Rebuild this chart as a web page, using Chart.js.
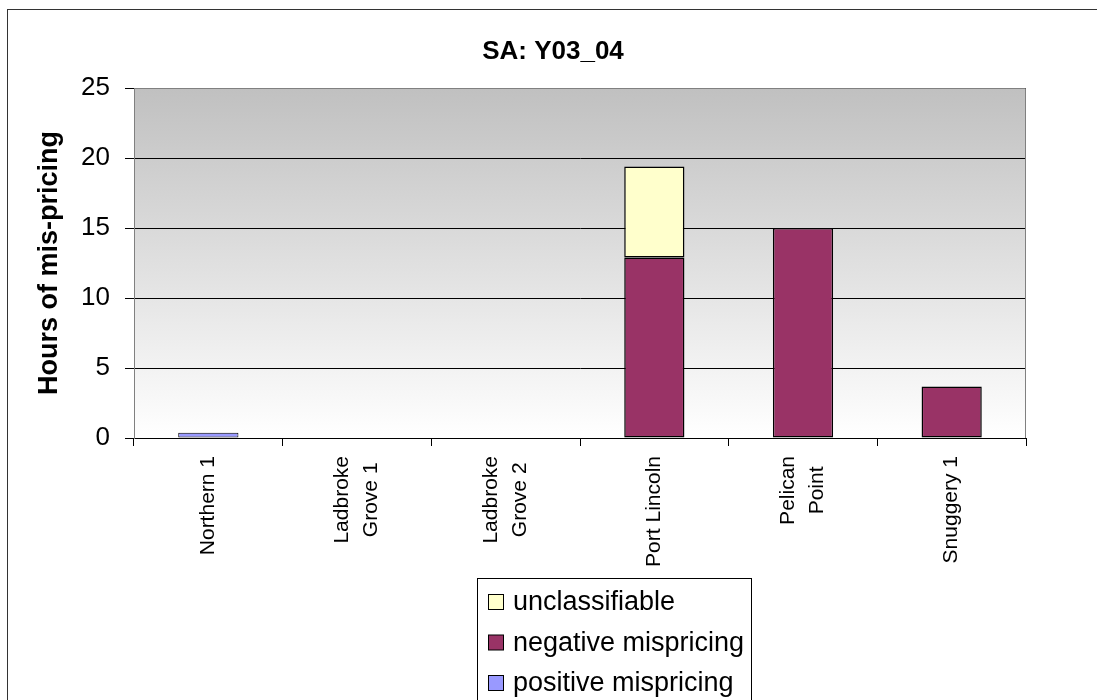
<!DOCTYPE html>
<html><head><meta charset="utf-8">
<script src="https://cdn.jsdelivr.net/npm/chart.js@4/dist/chart.umd.min.js"></script>
<style>html,body{margin:0;padding:0;background:#fff;}#wrap{width:1097px;height:700px;position:relative;}</style>
</head><body><div id="wrap"><canvas id="c" width="1097" height="700"></canvas></div>
<script>
const chartTitle = 'SA: Y03_04';
const yAxisTitle = 'Hours of mis-pricing';
const categories = [['Northern 1'], ['Ladbroke', 'Grove 1'], ['Ladbroke', 'Grove 2'], ['Port Lincoln'], ['Pelican', 'Point'], ['Snuggery 1']];
const positiveMispricing = [0.37, null, null, null, null, null];
const negativeMispricing = [null, null, null, 12.9, 15.0, 3.67];
const unclassifiable = [null, null, null, 6.5, null, null];
const yTickValues = [0, 5, 10, 15, 20, 25];
const seriesNames = ['positive mispricing', 'negative mispricing', 'unclassifiable'];
const seriesColors = ['#9999ff', '#993366', '#ffffcc'];

const FONT = '"Liberation Sans", Arial, sans-serif';

const decor = {
  id: 'decor',
  beforeDraw(chart) {
    const {ctx, chartArea: a} = chart;
    ctx.save();
    ctx.fillStyle = '#fff';
    ctx.fillRect(0, 0, chart.width, chart.height);
    const g = ctx.createLinearGradient(0, a.top, 0, a.bottom);
    g.addColorStop(0, '#c0c0c0');
    g.addColorStop(1, '#ffffff');
    ctx.fillStyle = g;
    ctx.fillRect(a.left, a.top, a.right - a.left, a.bottom - a.top);
    ctx.restore();
  },
  afterDraw(chart) {
    const {ctx, chartArea: a} = chart;
    ctx.save();
    ctx.strokeStyle = '#808080';
    ctx.lineWidth = 1;
    ctx.beginPath();
    ctx.moveTo(a.left + 0.5, a.bottom);
    ctx.lineTo(a.left + 0.5, a.top + 0.5);
    ctx.lineTo(a.right - 0.5, a.top + 0.5);
    ctx.lineTo(a.right - 0.5, a.bottom);
    ctx.stroke();
    ctx.strokeStyle = '#333';
    ctx.strokeRect(7.5, 9.5, 1300, 900);
    ctx.fillStyle = '#000';
    ctx.font = 'bold 26px ' + FONT;
    ctx.textAlign = 'center';
    ctx.textBaseline = 'alphabetic';
    ctx.fillText(chartTitle, 553, 59);
    const xs = chart.scales.x;
    ctx.font = '21px ' + FONT;
    categories.forEach((lines, i) => {
      const x = xs.getPixelForValue(i);
      const bw = Math.max(...lines.map(l => ctx.measureText(l).width));
      ctx.save();
      ctx.translate(x, 456);
      ctx.rotate(-Math.PI / 2);
      ctx.textAlign = 'center';
      ctx.textBaseline = 'middle';
      lines.forEach((l, j) => ctx.fillText(l, -bw / 2, (j - (lines.length - 1) / 2) * 29));
      ctx.restore();
    });
    ctx.fillStyle = '#fff';
    ctx.fillRect(477, 578, 274, 140);
    ctx.strokeStyle = '#000';
    ctx.strokeRect(477.5, 578.5, 274, 140);
    const ds = chart.data.datasets.slice().reverse();
    ctx.font = '27px ' + FONT;
    ctx.textAlign = 'left';
    ctx.textBaseline = 'middle';
    ds.forEach((d, k) => {
      const cy = 602 + k * 40.5;
      ctx.fillStyle = d.backgroundColor;
      ctx.fillRect(488.5, cy - 7.5, 15, 15);
      ctx.strokeStyle = '#000';
      ctx.lineWidth = 1;
      ctx.strokeRect(488.5, cy - 7.5, 15, 15);
      ctx.fillStyle = '#000';
      ctx.fillText(d.label, 513, cy + 1);
    });
    ctx.restore();
  }
};

const seriesData = [positiveMispricing, negativeMispricing, unclassifiable];

new Chart(document.getElementById('c'), {
  type: 'bar',
  data: {
    labels: categories.map(c => c.join(' ')),
    datasets: seriesData.map((d, i) => ({
      label: seriesNames[i],
      data: d,
      backgroundColor: seriesColors[i],
      borderColor: '#000',
      borderWidth: i === 0 ? 1 : 1.5,
      borderSkipped: false,
      categoryPercentage: 1,
      barPercentage: 0.405
    }))
  },
  options: {
    responsive: false,
    animation: false,
    layout: {padding: {top: 88, right: 71, left: 0, bottom: 0}},
    plugins: {legend: {display: false}, title: {display: false}, tooltip: {enabled: false}},
    scales: {
      x: {
        stacked: true,
        afterFit(s) { s.height = 262; },
        grid: {display: true, drawOnChartArea: false, drawTicks: true, tickLength: 8, color: '#000', offset: true},
        border: {display: true, color: '#000', width: 1},
        ticks: {display: false}
      },
      y: {
        stacked: true,
        min: 0, max: 25,
        afterFit(s) { s.width = 134; },
        afterBuildTicks(s) { s.ticks = yTickValues.map(v => ({value: v})); },
        grid: {color: '#000', lineWidth: 1, tickLength: 9, drawTicks: true},
        border: {display: true, color: '#808080'},
        ticks: {font: {family: FONT, size: 26}, color: '#000', padding: 15},
        title: {display: true, text: yAxisTitle, color: '#000', font: {family: FONT, size: 27, weight: 'bold'}, padding: {top: 33, bottom: 0}}
      }
    }
  },
  plugins: [decor]
});
</script>
</body></html>
